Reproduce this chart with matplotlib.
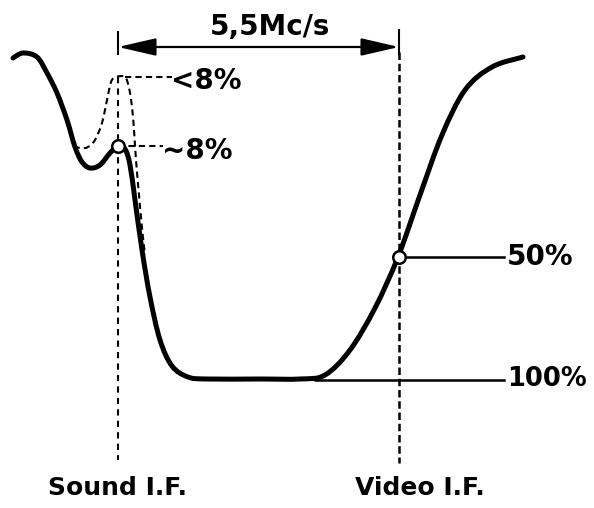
import matplotlib
matplotlib.use("Agg")
import matplotlib.pyplot as plt
from matplotlib.path import Path
from matplotlib.patches import PathPatch

# IF response curve (x: frequency axis, y: attenuation axis, image units)
response_x = [13, 23, 37, 47, 57, 67, 75, 82, 90, 100, 110, 118, 125, 130, 135, 142, 150, 160,
              172, 188, 207, 260, 300, 325, 350, 375, 398, 420, 442, 465, 492, 523]
response_y = [58, 53, 57, 73, 93, 120, 147, 162, 168, 165, 153, 146, 149, 165, 200, 250, 297, 340,
              366, 377, 379, 379, 379, 375, 350, 308, 257, 195, 135, 90, 67, 57]

# alternative (dashed) response around the sound carrier
alt_x = [68, 75, 82, 88, 95, 102, 107, 111, 116, 125, 129, 132, 134, 136, 139, 142, 145]
alt_y = [125, 145, 148, 147, 140, 123, 100, 82, 77, 77, 88, 107, 130, 160, 195, 228, 255]

sound_if = 118
video_if = 399
level_100 = 379
level_50 = 257
sound_peak = 146
alt_peak = 77


def smooth_path(xs, ys):
    # Catmull-Rom through the read points, drawn as cubic Bezier segments
    pts = list(zip(xs, ys))
    verts = [pts[0]]
    codes = [Path.MOVETO]
    for i in range(len(pts) - 1):
        p0 = pts[i - 1] if i > 0 else pts[i]
        p1 = pts[i]
        p2 = pts[i + 1]
        p3 = pts[i + 2] if i + 2 < len(pts) else pts[i + 1]
        c1 = (p1[0] + (p2[0] - p0[0]) / 6, p1[1] + (p2[1] - p0[1]) / 6)
        c2 = (p2[0] - (p3[0] - p1[0]) / 6, p2[1] - (p3[1] - p1[1]) / 6)
        verts += [c1, c2, p2]
        codes += [Path.CURVE4] * 3
    return Path(verts, codes)


fig = plt.figure(figsize=(5.94, 5.08), dpi=100)
ax = fig.add_axes([0, 0, 1, 1])
ax.set_xlim(0, 594)
ax.set_ylim(508, 0)
ax.axis('off')

# main curve
ax.add_patch(PathPatch(smooth_path(response_x, response_y), fill=False, edgecolor='black',
                       lw=3.6, capstyle='round', joinstyle='round', zorder=3))
# dashed curve
ax.add_patch(PathPatch(smooth_path(alt_x, alt_y), fill=False, edgecolor='black',
                       lw=1.5, linestyle=(0, (3, 2)), zorder=2))

# vertical markers
ax.plot([sound_if, sound_if], [alt_peak, 460], color='black', lw=1.5, dashes=(3, 2.5))
ax.plot([video_if, video_if], [52, 463], color='black', lw=1.8, dashes=(3, 1.5))
ax.plot([sound_if, sound_if], [32, 54], color='black', lw=1.5)
ax.plot([video_if, video_if], [30, 54], color='black', lw=1.5)

# 5,5 Mc/s arrow
ax.annotate('', xy=(sound_if, 47), xytext=(video_if, 47),
            arrowprops=dict(arrowstyle='<|-|>,head_length=1.3,head_width=0.3',
                            color='black', lw=1.6, mutation_scale=18, shrinkA=0, shrinkB=0))
ax.text(270, 27, '5,5Mc/s', fontsize=20, fontweight='bold', ha='center', va='center')

# level markers
ax.plot([125, 172], [alt_peak, alt_peak], color='black', lw=1.5, dashes=(3, 2))
ax.text(171, 81, '<8%', fontsize=20, fontweight='bold', ha='left', va='center')
ax.plot([sound_if, 163], [sound_peak, sound_peak], color='black', lw=1.5, dashes=(3, 2))
ax.text(162, 151, '~8%', fontsize=20, fontweight='bold', ha='left', va='center')

ax.plot([video_if, 504], [level_50, level_50], color='black', lw=1.8)
ax.text(507, level_50, '50%', fontsize=20, fontweight='bold', ha='left', va='center')
ax.plot([315, 504], [level_100 + 1, level_100 + 1], color='black', lw=1.8)
ax.text(507, level_100, '100%', fontsize=18.5, fontweight='bold', ha='left', va='center')

# circles at the marked points
ax.plot([sound_if, video_if], [sound_peak, level_50], 'o', ms=9, mfc='white', mec='black',
        mew=1.8, zorder=4)

ax.text(118, 488, 'Sound I.F.', fontsize=18, fontweight='bold', ha='center', va='center')
ax.text(420, 488, 'Video I.F.', fontsize=18, fontweight='bold', ha='center', va='center')

fig.savefig('out.png', dpi=100)
